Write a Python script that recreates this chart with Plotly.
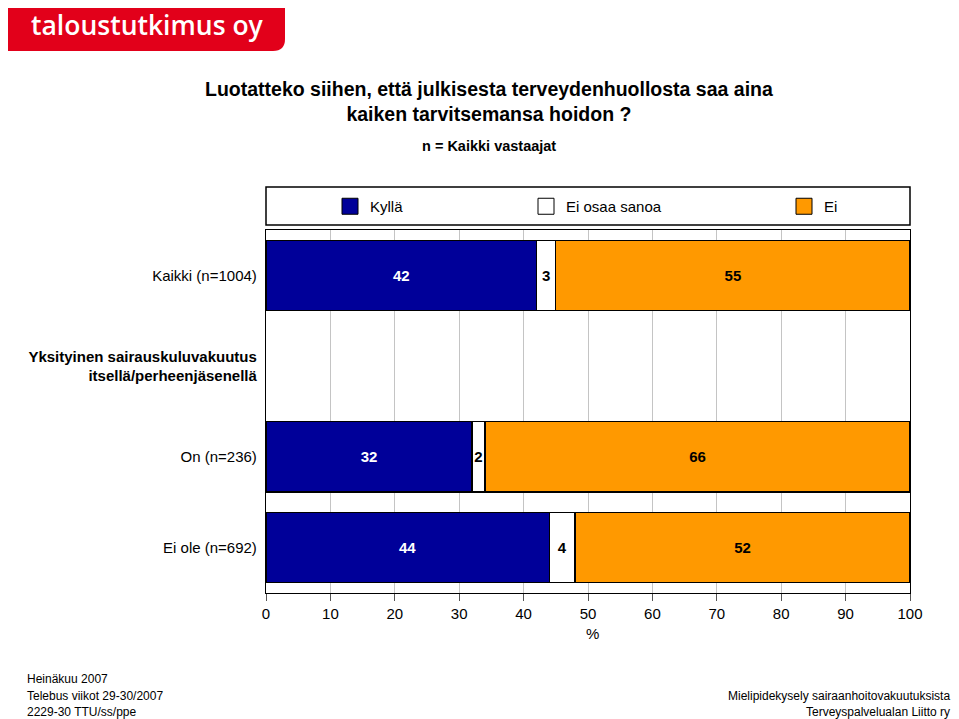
import plotly.graph_objects as go

# ---------------- data ----------------
categories = [
    "Kaikki (n=1004)",
    "Yksityinen sairauskuluvakuutus itsellä/perheenjäsenellä",
    "On (n=236)",
    "Ei ole (n=692)",
]
tick_labels = [
    "Kaikki (n=1004)",
    "<b>Yksityinen sairauskuluvakuutus</b><br><b>itsellä/perheenjäsenellä</b>",
    "On (n=236)",
    "Ei ole (n=692)",
]
series_names = ["Kyllä", "Ei osaa sanoa", "Ei"]
kylla = [42, None, 32, 44]
ei_osaa_sanoa = [3, None, 2, 4]
ei = [55, None, 66, 52]
x_ticks = [0, 10, 20, 30, 40, 50, 60, 70, 80, 90, 100]

title_lines = ["Luotatteko siihen, että julkisesta terveydenhuollosta saa aina",
               "kaiken tarvitsemansa hoidon ?"]
subtitle = "n = Kaikki vastaajat"
footer_left = ["Heinäkuu 2007", "Telebus viikot 29-30/2007", "2229-30 TTU/ss/ppe"]
footer_right = ["Mielipidekysely sairaanhoitovakuutuksista", "Terveyspalvelualan Liitto ry"]
logo_text = "taloustutkimus oy"

# ---------------- layout geometry ----------------
OFF = 8  # page body margin
W, H = 959 - OFF, 719 - OFF
# plot area in page pixels
PL, PR, PT, PB = 266, 910, 230, 593
L, R, T, B = PL - OFF, PR - OFF, PT - OFF, PB - OFF
FONT = "Arial, Liberation Sans, Helvetica, sans-serif"


def px(x):
    """page pixel x -> paper x"""
    return (x - PL) / (PR - PL)


def py(y):
    """page pixel y -> paper y"""
    return (PB - y) / (PB - PT)


colors = ["#000099", "#FFFFFF", "#FF9900"]
text_colors = ["white", "black", "black"]
values = [kylla, ei_osaa_sanoa, ei]
legend_ids = ["legend", "legend2", "legend3"]

fig = go.Figure()
for name, vals, col, tcol in zip(series_names, values, colors, text_colors):
    fig.add_trace(go.Bar(
        y=categories, x=vals, name=name, orientation="h",
        marker=dict(color=col, line=dict(color="black", width=1.3)),
        text=[("" if v is None else str(v)) for v in vals],
        textposition="inside", insidetextanchor="middle", textangle=0,
        constraintext="none",
        insidetextfont=dict(family=FONT, size=15, color=tcol, weight="bold"),
        showlegend=False, hoverinfo="skip",
    ))

# legend entries (square swatches)
for name, col, lid in zip(series_names, colors, legend_ids):
    fig.add_trace(go.Scatter(
        x=[None], y=[None], mode="markers", name=name, legend=lid,
        marker=dict(symbol="square", size=16, color=col,
                    line=dict(color="black", width=1)),
        showlegend=True, hoverinfo="skip",
    ))

legend_text_x = [370, 566, 824]
legend_common = dict(font=dict(family=FONT, size=15, color="black"),
                     bgcolor="rgba(0,0,0,0)", borderwidth=0,
                     xanchor="left", yanchor="middle", y=py(206.5),
                     orientation="h")
fig.update_layout(
    legend=dict(x=px(legend_text_x[0] - 40), **legend_common),
    legend2=dict(x=px(legend_text_x[1] - 40), **legend_common),
    legend3=dict(x=px(legend_text_x[2] - 40), **legend_common),
)

fig.update_layout(
    width=W, height=H, autosize=False,
    margin=dict(l=L, r=W - R, t=T, b=H - B, pad=0),
    paper_bgcolor="white", plot_bgcolor="white",
    barmode="stack", bargap=0.227,
    font=dict(family=FONT, size=15, color="black"),
    xaxis=dict(
        range=[0, 100], tickmode="array", tickvals=x_ticks,
        ticktext=[str(t) for t in x_ticks],
        showgrid=True, gridcolor="#C4C4C4", gridwidth=1,
        showline=True, linecolor="black", linewidth=1.3, mirror=True,
        ticks="outside", ticklen=7, tickcolor="#555555", tickwidth=1,
        tickfont=dict(family=FONT, size=15, color="black"),
        zeroline=False, fixedrange=True,
    ),
    yaxis=dict(
        type="category", categoryorder="array", categoryarray=categories,
        range=[3.5, -0.5], tickmode="array", tickvals=categories,
        ticktext=tick_labels,
        showgrid=False, showline=True, linecolor="black", linewidth=1.3,
        mirror=True, ticks="", ticklabelstandoff=5,
        tickfont=dict(family=FONT, size=15, color="black"),
        zeroline=False, fixedrange=True,
    ),
)

shapes = []
# legend frame
shapes.append(dict(type="rect", xref="paper", yref="paper",
                   x0=px(266), x1=px(910), y0=py(225), y1=py(187),
                   line=dict(color="black", width=1.5), fillcolor="white",
                   layer="below"))
# logo block with rounded bottom-right corner
lx0, lx1, ly0, ly1, rad = 5, 285, 2, 51, 12
path = (f"M {px(lx0)},{py(ly0)} L {px(lx1)},{py(ly0)} L {px(lx1)},{py(ly1 - rad)} "
        f"Q {px(lx1)},{py(ly1)} {px(lx1 - rad)},{py(ly1)} L {px(lx0)},{py(ly1)} Z")
shapes.append(dict(type="path", xref="paper", yref="paper", path=path,
                   fillcolor="#E2001A", line=dict(width=0), layer="below"))
fig.update_layout(shapes=shapes)

ann = []
ann.append(dict(text=logo_text, xref="paper", yref="paper", x=px(147), y=py(25),
                xanchor="center", yanchor="middle", showarrow=False,
                font=dict(family="Open Sans, sans-serif", size=26.5, color="white",
                          weight=600)))
ann.append(dict(text="<br>".join(title_lines), xref="paper", yref="paper",
                x=px(489), y=py(101), xanchor="center", yanchor="middle",
                showarrow=False, align="center",
                font=dict(family=FONT, size=19.5, color="black", weight="bold")))
ann.append(dict(text=subtitle, xref="paper", yref="paper", x=px(489), y=py(146),
                xanchor="center", yanchor="middle", showarrow=False,
                font=dict(family=FONT, size=14.5, color="black", weight="bold")))
ann.append(dict(text="%", xref="paper", yref="paper", x=px(592), y=py(633),
                xanchor="center", yanchor="middle", showarrow=False,
                font=dict(family=FONT, size=15, color="black")))
for txt, yy in zip(footer_left, [679, 696, 712]):
    ann.append(dict(text=txt, xref="paper", yref="paper", x=px(25), y=py(yy),
                    xanchor="left", yanchor="middle", showarrow=False,
                    font=dict(family=FONT, size=12, color="black")))
for txt, yy in zip(footer_right, [696, 712]):
    ann.append(dict(text=txt, xref="paper", yref="paper", x=px(952), y=py(yy),
                    xanchor="right", yanchor="middle", showarrow=False,
                    font=dict(family=FONT, size=12, color="black")))
fig.update_layout(annotations=ann)

fig.write_html("out.html")
